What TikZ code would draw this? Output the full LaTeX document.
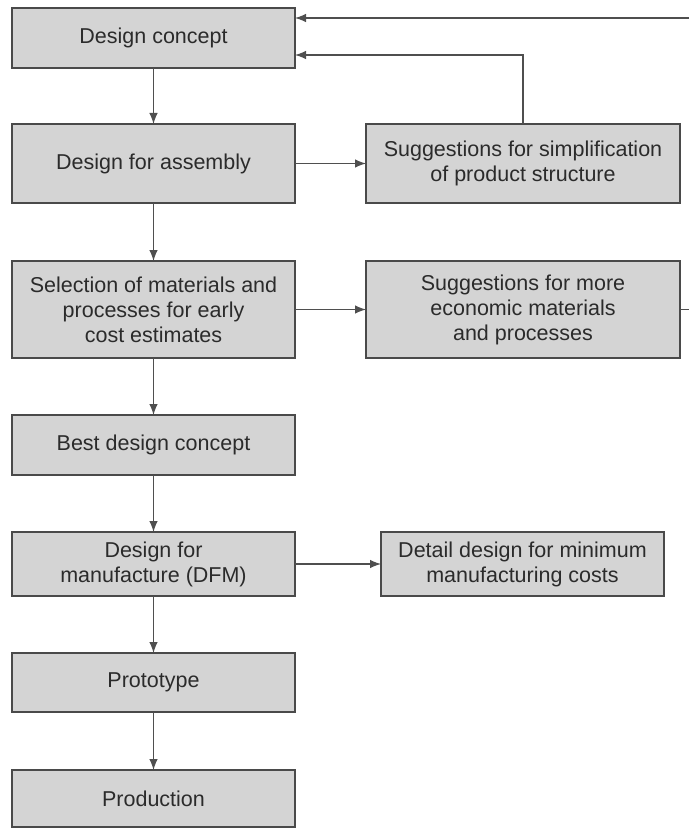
\documentclass[tikz,border=0pt]{standalone}
\usepackage{fontspec}
\setmainfont{Liberation Sans}
\usetikzlibrary{arrows.meta}
\definecolor{boxfill}{HTML}{D4D4D4}
\definecolor{boxline}{HTML}{4A4A4A}
\definecolor{txt}{HTML}{2B2B2B}
\definecolor{conn}{HTML}{4F4F4F}
\tikzset{
  flowbox/.style={draw=boxline, line width=1.6pt, fill=boxfill, text=txt, align=center,
    inner sep=0pt, outer sep=0pt, font=\fontsize{21.5}{25}\selectfont},
  arr/.style={draw=conn, line width=1.1pt, -{Latex[length=11pt,width=8.5pt]}},
  plainline/.style={draw=conn, line width=1.1pt}
}
\begin{document}
\begin{tikzpicture}[x=1pt,y=-1pt]
\useasboundingbox (0,0) rectangle (689,829);
\node[flowbox, minimum width=283pt, minimum height=60pt] (b1) at (153.5,38) {Design concept};
\node[flowbox, minimum width=283pt, minimum height=79pt] (b2) at (153.5,163.5) {Design for assembly};
\node[flowbox, minimum width=314pt, minimum height=79pt] (s1) at (523,163.5) {Suggestions for simplification\\of product structure};
\node[flowbox, minimum width=283pt, minimum height=97pt] (b3) at (153.5,309.5) {Selection of materials and\\processes for early\\cost estimates};
\node[flowbox, minimum width=314pt, minimum height=97pt] (s2) at (523,309.5) {Suggestions for more\\economic materials\\and processes};
\node[flowbox, minimum width=283pt, minimum height=60pt] (b4) at (153.5,445) {Best design concept};
\node[flowbox, minimum width=283pt, minimum height=64pt] (b5) at (153.5,564) {Design for\\manufacture (DFM)};
\node[flowbox, minimum width=283pt, minimum height=64pt] (d1) at (522.5,564) {Detail design for minimum\\manufacturing costs};
\node[flowbox, minimum width=283pt, minimum height=59pt] (b6) at (153.5,682.5) {Prototype};
\node[flowbox, minimum width=283pt, minimum height=57pt] (b7) at (153.5,798.5) {Production};

\coordinate (ext1) at (689,18);
\coordinate (fbin) at (295,55);
\coordinate (ext2) at (689,309.5);

\draw[arr] (ext1) -- (ext1 -| b1.east);
\draw[arr] (s1.north) |- (fbin);
\draw[arr] (b1) -- (b2);
\draw[arr] (b2) -- (s1);
\draw[arr] (b2) -- (b3);
\draw[arr] (b3) -- (s2);
\draw[plainline] (s2.east) -- (ext2);
\draw[arr] (b3) -- (b4);
\draw[arr] (b4) -- (b5);
\draw[arr] (b5) -- (d1);
\draw[arr] (b5) -- (b6);
\draw[arr] (b6) -- (b7);
\end{tikzpicture}
\end{document}
